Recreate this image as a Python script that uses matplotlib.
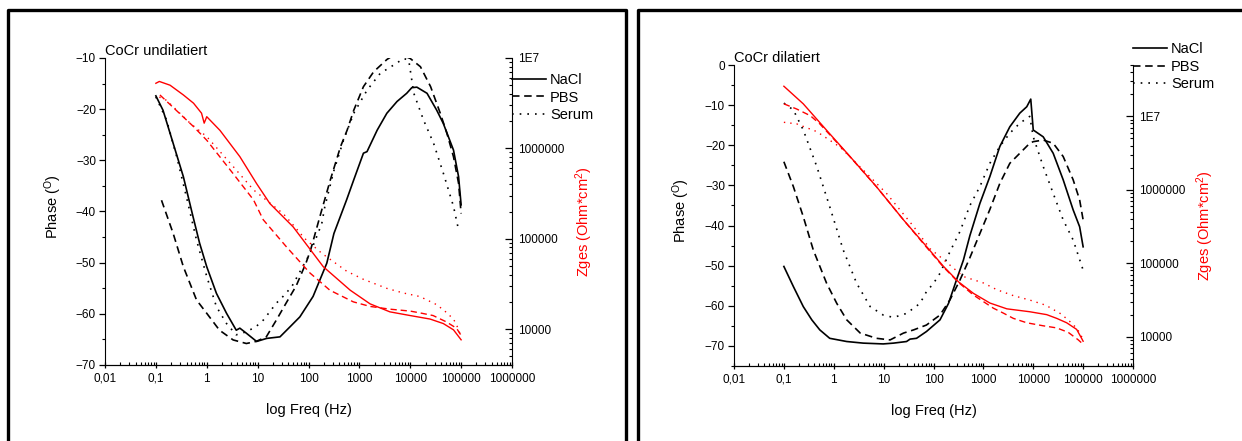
import numpy as np
import matplotlib
matplotlib.use('Agg')
import matplotlib.pyplot as plt
from matplotlib.lines import Line2D
from matplotlib.ticker import FixedLocator, FixedFormatter, LogLocator, NullFormatter

plt.rcParams['font.family'] = ['Liberation Sans', 'DejaVu Sans']
plt.rcParams['mathtext.fontset'] = 'custom'
plt.rcParams['mathtext.rm'] = 'Liberation Sans'
plt.rcParams['mathtext.it'] = 'Liberation Sans:italic'

## Data (frequency in Hz, phase in deg, Zges in Ohm*cm^2)
## CoCr undilatiert
und_nacl_f = [0.1, 0.138, 0.219, 0.347, 0.537, 0.724, 1, 1.55, 2.45, 3.8,
              4.47, 6.03, 9.55, 15.1, 27.5, 43.7, 67.6, 123, 229, 316, 562,
              776, 1202, 1413, 2239, 3467, 5495, 8511, 10715, 13490, 21380,
              33113, 44668, 70795, 89125, 100000]
und_nacl_phase = [-17.4, -20.2, -26.7, -33.2, -41, -46.2, -50.8, -56, -59.9,
                  -63.2, -62.8, -63.8, -65.4, -64.8, -64.5, -62.5, -60.6,
                  -56.6, -50.1, -44.3, -37.7, -33.8, -28.6, -28.3, -24.1,
                  -20.8, -18.5, -16.9, -15.8, -15.7, -16.9, -20.2, -22.8, -28,
                  -33.2, -38.7]
und_pbs_f = [0.129, 0.219, 0.347, 0.63, 1, 1.78, 3.3, 6.0, 9.3, 14.8, 23.4,
             36.3, 57.5, 89, 110, 174, 269, 427, 575, 776, 1202, 1905, 3467,
             5495, 10000, 15849, 25119, 38905, 52481, 70795, 89125, 100000]
und_pbs_phase = [-37.8, -44.3, -50.8, -57.3, -59.9, -63.2, -65.1, -65.8,
                 -65.4, -64.5, -61.2, -57.9, -54.5, -50.1, -47.5, -40.4,
                 -33.8, -27.3, -24.1, -20.2, -15.6, -12.7, -10.3, -9.0,
                 -10.1, -11.7, -15.6, -20.8, -24.7, -29.3, -34.5, -40.4]
und_serum_f = [0.1, 0.162, 0.257, 0.398, 0.63, 1, 1.55, 2.45, 3.8, 6.03, 9.3,
               13, 23.4, 31.6, 46.8, 67.6, 107, 182, 209, 316, 490, 776, 1413,
               2570, 4677, 7413, 9333, 11749, 18197, 28840, 44668, 70795,
               89125]
und_serum_phase = [-17.6, -22.1, -29.3, -37.1, -45.6, -52.7, -58.6, -61.9,
                   -64.1, -63.5, -62.5, -61.2, -57.9, -56.6, -54.7, -51.8,
                   -48.2, -42.4, -39.1, -32.0, -26, -20.8, -16.3, -13, -11.4,
                   -10.1, -10.4, -16.9, -22.1, -26.7, -32.5, -39, -43.6]
und_nacl_zf = [0.1, 0.117, 0.19, 0.347, 0.55, 0.79, 0.89, 1.0, 1.82, 4.47,
               9.55, 17.4, 50, 195, 661, 1622, 3981, 10000, 24547, 44668,
               70795, 100000]
und_nacl_z = [5.25e6, 5.5e6, 5.0e6, 3.9e6, 3.16e6, 2.45e6, 1.9e6, 2.24e6,
              1.58e6, 8.1e5, 4.07e5, 2.45e5, 1.35e5, 4.9e4, 2.69e4, 1.9e4,
              1.55e4, 1.41e4, 1.29e4, 1.15e4, 9.8e3, 7.6e3]
und_pbs_zf = [0.12, 0.55, 1.0, 3.3, 8.3, 12.9, 37, 107, 263, 759, 1622, 3981,
              10000, 15488, 28184, 51286, 81283, 100000]
und_pbs_z = [3.9e6, 1.74e6, 1.23e6, 5.25e5, 2.69e5, 1.62e5, 8.1e4, 4.17e4,
             2.69e4, 2.0e4, 1.78e4, 1.66e4, 1.58e4, 1.51e4, 1.41e4, 1.2e4,
             1.02e4, 8.5e3]
und_serum_zf = [0.117, 0.162, 0.47, 1.0, 3.3, 8.3, 31.6, 43.7, 85, 182, 562,
                1202, 3467, 7244, 15488, 33113, 47863, 70795, 87096, 100000]
und_serum_z = [3.7e6, 3.4e6, 1.9e6, 1.35e6, 6.3e5, 3.47e5, 1.9e5, 1.55e5,
               1.0e5, 6.9e4, 4.37e4, 3.55e4, 2.82e4, 2.51e4, 2.29e4, 1.86e4,
               1.58e4, 1.29e4, 1.02e4, 8.1e3]

## CoCr dilatiert
dil_nacl_f = [0.1, 0.155, 0.245, 0.363, 0.525, 0.83, 1.82, 3.9, 9.8, 15.8,
              28.8, 33.9, 45.7, 72.4, 135, 200, 288, 398, 537, 851, 1349,
              2138, 3388, 5370, 7413, 8913, 10000, 15849, 25119, 39811, 63096,
              85114, 100000]
dil_nacl_phase = [-50.2, -55.2, -60.2, -63.5, -66.0, -68.1, -68.9, -69.3,
                  -69.5, -69.3, -68.9, -68.3, -68.1, -66.4, -63.5, -59.4,
                  -53.6, -48.6, -42.5, -34.5, -27.8, -20.3, -15.4, -12.0,
                  -10.4, -8.5, -16.2, -17.9, -22, -28.6, -36.1, -40.3, -45.3]
dil_pbs_f = [0.1, 0.155, 0.245, 0.389, 0.72, 1.15, 1.82, 3.4, 7.2, 13.5, 25,
             40, 72, 135, 214, 339, 537, 851, 1349, 2138, 3388, 5370, 8511,
             10000, 15849, 25119, 39811, 63096, 85114, 100000]
dil_pbs_phase = [-24.1, -30.3, -37.8, -46.1, -54.4, -59.4, -63.5, -66.8,
                 -68.1, -68.5, -66.8, -66.0, -64.8, -62.3, -58.5, -53.6,
                 -48.0, -42.0, -36.0, -29.5, -24.5, -22.0, -19.5, -19.1,
                 -18.7, -19.5, -22.8, -28.6, -33.6, -38.6]
dil_serum_f = [0.1, 0.155, 0.245, 0.457, 0.83, 1.55, 2.88, 5.37, 9.8, 15.8,
               28.8, 53.7, 72, 100, 135, 214, 339, 537, 851, 1349, 2138, 3388,
               5370, 8511, 10000, 15849, 25119, 39811, 63096, 100000]
dil_serum_phase = [-9.5, -11.2, -16.2, -25.3, -35.3, -46.1, -54.4, -60.2,
                   -62.3, -62.9, -61.9, -59.4, -56.5, -54.4, -51.9, -46.5,
                   -41.5, -35, -30.3, -24.5, -20.3, -17.0, -14.5, -12.8,
                   -17.9, -25.3, -32.0, -38.6, -43.6, -51.1]
dil_nacl_zf = [0.1, 0.245, 0.72, 2.14, 7.2, 25, 72, 158, 316, 631, 1349, 2951,
               8511, 18621, 29512, 46774, 74131, 93325, 100000]
dil_nacl_z = [2.57e7, 1.48e7, 6.46e6, 2.82e6, 1.1e6, 3.9e5, 1.7e5, 9.1e4,
              5.6e4, 3.9e4, 2.88e4, 2.4e4, 2.19e4, 2.0e4, 1.78e4, 1.55e4,
              1.26e4, 9.5e3, 8.7e3]
dil_pbs_zf = [0.1, 0.18, 0.34, 0.525, 2.14, 7.2, 25, 72, 158, 316, 631, 1585,
              2512, 3981, 7413, 15849, 29512, 50119, 79433, 100000]
dil_pbs_z = [1.48e7, 1.26e7, 1.02e7, 7.9e6, 2.8e6, 1.1e6, 3.9e5, 1.66e5,
             8.9e4, 5.5e4, 3.7e4, 2.45e4, 2.1e4, 1.78e4, 1.55e4, 1.41e4,
             1.32e4, 1.15e4, 9.1e3, 7.9e3]
dil_serum_zf = [0.1, 0.18, 0.457, 1.35, 3.9, 11.5, 40, 85, 135, 398, 1000,
                1862, 3981, 8511, 17783, 36308, 53703, 75858, 97724]
dil_serum_z = [8.3e6, 7.9e6, 6.2e6, 3.8e6, 1.86e6, 8.9e5, 3.16e5, 1.58e5,
               1.23e5, 6.6e4, 5.4e4, 4.37e4, 3.63e4, 3.16e4, 2.69e4, 2.04e4,
               1.62e4, 1.29e4, 9.5e3]

x_ticks = [0.01, 0.1, 1, 10, 100, 1000, 10000, 100000, 1000000]
x_ticklabels = ['0,01', '0,1', '1', '10', '100', '1000', '10000', '100000',
                '1000000']
z_ticks = [10000, 100000, 1000000, 10000000]
z_ticklabels = ['10000', '100000', '1000000', '1E7']
series_names = ['NaCl', 'PBS', 'Serum']

## Styles
solid = '-'
dashed = (0, (4.5, 2.8))
dotted = (0, (1, 3.6))
W, H = 1242., 441.

fig = plt.figure(figsize=(12.42, 4.41), dpi=100)


def make_panel(rect, title, ylim, yticks, zlim, phase_data, z_data,
               leg_anchor, phase_lab_x, z_lab_x):
    ax = fig.add_axes(rect)
    ax.set_xscale('log')
    ax.set_xlim(0.01, 1e6)
    ax.set_ylim(*ylim)
    for (f, p), ls in zip(phase_data, [solid, dashed, dotted]):
        ax.plot(f, p, color='black', lw=1.2, linestyle=ls)
    ax.xaxis.set_major_locator(FixedLocator(x_ticks))
    ax.xaxis.set_major_formatter(FixedFormatter(x_ticklabels))
    ax.xaxis.set_minor_locator(LogLocator(base=10, subs=np.arange(2, 10),
                                          numticks=20))
    ax.xaxis.set_minor_formatter(NullFormatter())
    ax.set_yticks(yticks)
    ax.set_yticks(np.arange(ylim[0], ylim[1] + 0.1, 5), minor=True)
    ax.tick_params(axis='x', which='major', direction='inout', length=5,
                   width=0.9, labelsize=8.5, pad=3)
    ax.tick_params(axis='x', which='minor', direction='in', length=2.5,
                   width=0.8)
    ax.tick_params(axis='y', which='major', direction='out', length=4.5,
                   width=0.9, labelsize=8.5, pad=2)
    ax.tick_params(axis='y', which='minor', direction='out', length=2.5,
                   width=0.8)
    ax.spines['top'].set_visible(False)
    ax.spines['right'].set_visible(False)
    ax.set_xlabel('log Freq (Hz)', fontsize=10.5)
    ax.xaxis.set_label_coords(0.5, -0.125)
    ax.set_ylabel(r'Phase ($^\mathrm{O}$)', fontsize=10.5)
    ax.yaxis.set_label_coords(phase_lab_x, 0.515)
    ax.text(0, 1.01, title, transform=ax.transAxes, fontsize=10.5,
            ha='left', va='baseline')

    ax2 = ax.twinx()
    ax2.set_yscale('log')
    ax2.set_ylim(*zlim)
    for (f, z), ls in zip(z_data, [solid, dashed, dotted]):
        ax2.plot(f, z, color='red', lw=1.0, linestyle=ls)
    ax2.yaxis.set_major_locator(FixedLocator(z_ticks))
    ax2.yaxis.set_major_formatter(FixedFormatter(z_ticklabels))
    ax2.yaxis.set_minor_locator(LogLocator(base=10, subs=np.arange(2, 10),
                                           numticks=20))
    ax2.yaxis.set_minor_formatter(NullFormatter())
    ax2.tick_params(axis='y', which='major', direction='in', length=5,
                    width=0.9, labelsize=8.5, pad=4)
    ax2.tick_params(axis='y', which='minor', direction='in', length=2.5,
                    width=0.8)
    ax2.spines['top'].set_visible(False)
    ax2.spines['left'].set_visible(False)
    ax2.set_ylabel(r'Zges (Ohm*cm$^2$)', color='red', fontsize=10.5)
    ax2.yaxis.set_label_coords(z_lab_x, 0.466)

    handles = [Line2D([], [], color='black', lw=1.2, linestyle=ls)
               for ls in [solid, dashed, dotted]]
    ax2.legend(handles, series_names, loc='upper left',
               bbox_to_anchor=leg_anchor, frameon=False, fontsize=10.5,
               handlelength=2.3, handletextpad=0.3, labelspacing=0.22,
               borderpad=0, borderaxespad=0)
    return ax, ax2


## Left panel
make_panel([105 / W, 1 - 365 / H, 407 / W, 307 / H], 'CoCr undilatiert',
           (-70, -10), np.arange(-70, -9, 10), (4000, 1e7),
           [(und_nacl_f, und_nacl_phase), (und_pbs_f, und_pbs_phase),
            (und_serum_f, und_serum_phase)],
           [(und_nacl_zf, und_nacl_z), (und_pbs_zf, und_pbs_z),
            (und_serum_zf, und_serum_z)],
           (1.0, 0.95), -0.10, 1.15)

## Right panel
make_panel([734 / W, 1 - 366 / H, 399 / W, 301 / H], 'CoCr dilatiert',
           (-75, 0), np.arange(-70, 1, 10), (4000, 5e7),
           [(dil_nacl_f, dil_nacl_phase), (dil_pbs_f, dil_pbs_phase),
            (dil_serum_f, dil_serum_phase)],
           [(dil_nacl_zf, dil_nacl_z), (dil_pbs_zf, dil_pbs_z),
            (dil_serum_zf, dil_serum_z)],
           (1.0, 1.075), -0.105, 1.155)

## Frames around the two panels
frame_kw = dict(color='black', lw=2.4, transform=fig.transFigure,
                solid_capstyle='projecting')
fig.add_artist(Line2D([7.5 / W, 7.5 / W, 626 / W, 626 / W],
                      [0, 1 - 10 / H, 1 - 10 / H, 0], **frame_kw))
fig.add_artist(Line2D([638.5 / W, 638.5 / W, 1.0],
                      [0, 1 - 9.5 / H, 1 - 9.5 / H], **frame_kw))

fig.savefig('out.png', dpi=100)
